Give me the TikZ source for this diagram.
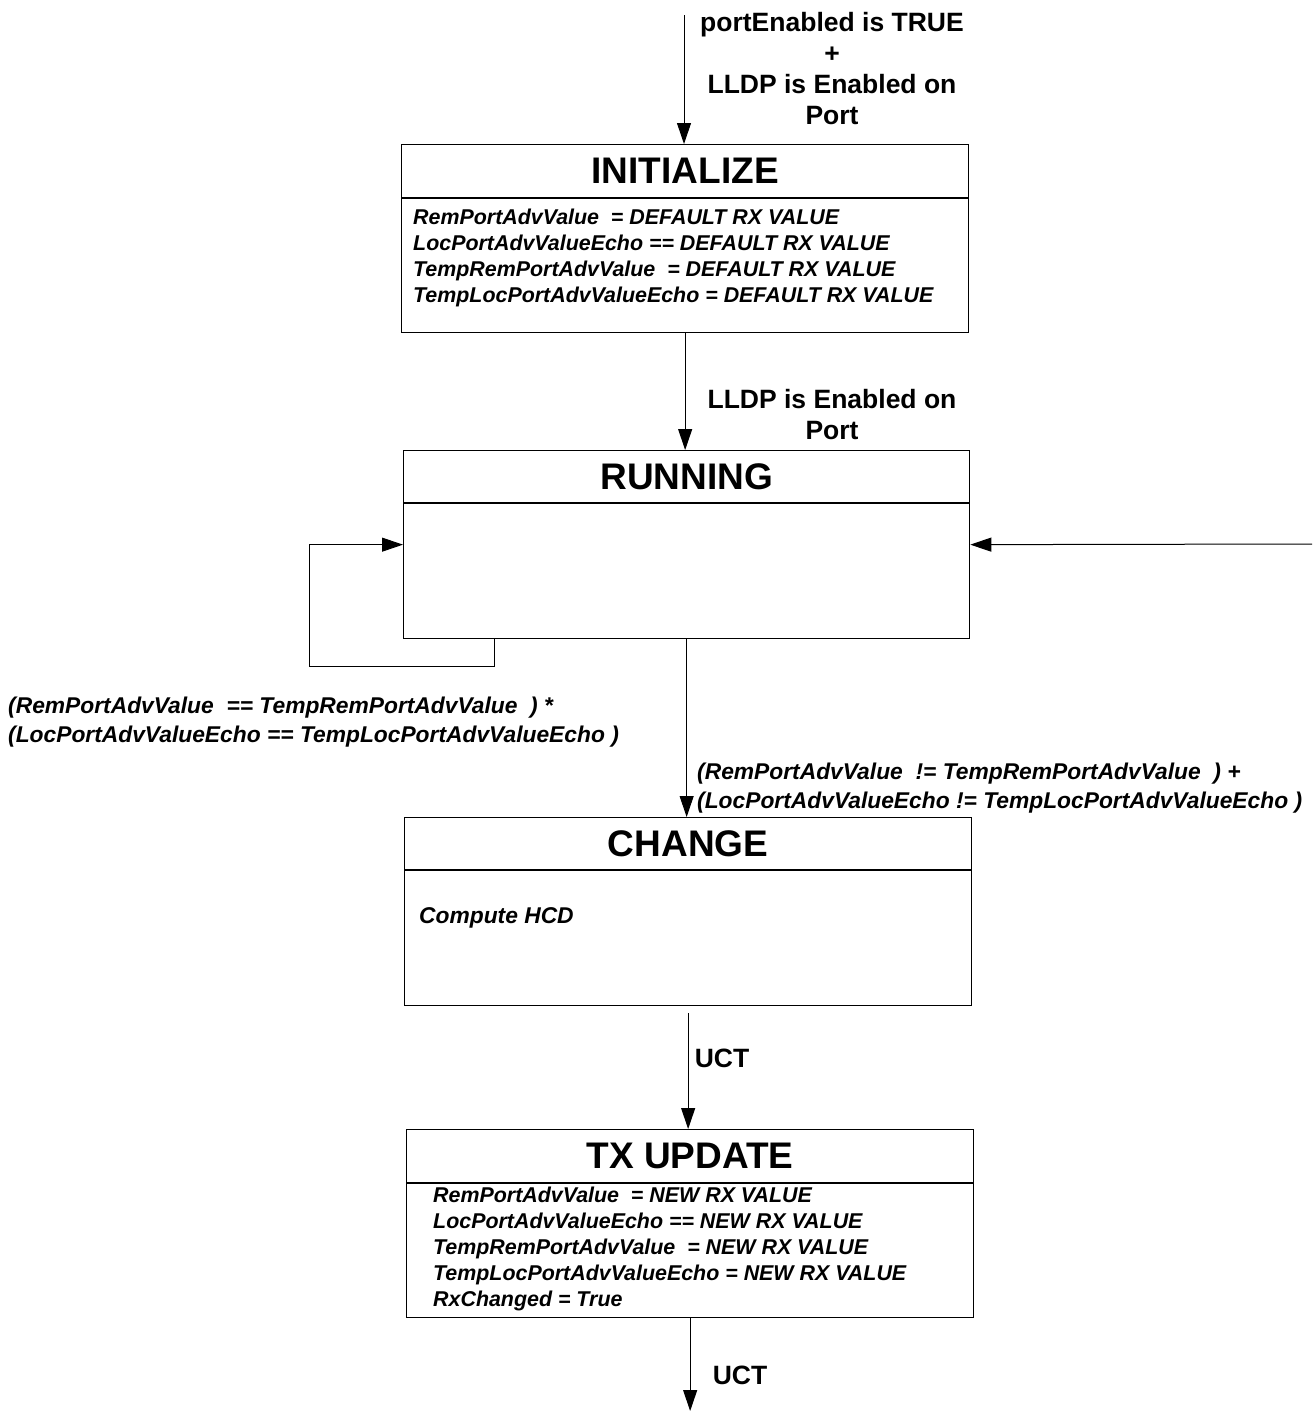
\documentclass[tikz,border=0pt]{standalone}
\usepackage{fontspec}
\setmainfont{Liberation Sans}
\usetikzlibrary{arrows.meta}
\begin{document}
\begin{tikzpicture}[x=1pt,y=-1pt,
  statebox/.style={draw, line width=1.3pt, inner sep=0pt, anchor=north west, minimum height=188pt},
  divline/.style={line width=1.3pt},
  title/.style={font=\fontsize{37}{44}\selectfont\bfseries, inner sep=0pt},
  body/.style={font=\fontsize{21.4}{26}\selectfont\bfseries\itshape, align=left, inner sep=0pt, anchor=north west},
  lbl/.style={font=\fontsize{26.5}{31}\selectfont\bfseries, align=center, inner sep=0pt},
  cond/.style={font=\fontsize{22.8}{28.5}\selectfont\bfseries\itshape, align=left, inner sep=0pt, anchor=north west},
  arr/.style={line width=1pt, -{Triangle[length=21pt,width=14pt]}}
]
\useasboundingbox (0,0) rectangle (1312,1411);

% boxes
\node[statebox, minimum width=567pt] (init) at (401,144) {};
\node[statebox, minimum width=566pt] (run) at (403,450) {};
\node[statebox, minimum width=567pt] (change) at (404,817) {};
\node[statebox, minimum width=567pt] (tx) at (406,1129) {};

% dividers
\draw[divline] ([yshift=-54pt]init.north west) -- ([yshift=-54pt]init.north east);
\draw[divline] ([yshift=-53pt]run.north west) -- ([yshift=-53pt]run.north east);
\draw[divline] ([yshift=-53pt]change.north west) -- ([yshift=-53pt]change.north east);
\draw[divline] ([yshift=-54pt]tx.north west) -- ([yshift=-54pt]tx.north east);

% titles
\node[title] (initT) at ([yshift=-27pt]init.north) {INITIALIZE};
\node[title] (runT) at ([yshift=-26.5pt]run.north) {RUNNING};
\node[title] (changeT) at ([yshift=-26.5pt]change.north) {CHANGE};
\node[title] (txT) at ([yshift=-27pt]tx.north) {TX UPDATE};

% bodies
\node[body] (initB) at (413,209) {RemPortAdvValue\ \ = DEFAULT RX VALUE\\
LocPortAdvValueEcho == DEFAULT RX VALUE\\
TempRemPortAdvValue\ \ = DEFAULT RX VALUE\\
TempLocPortAdvValueEcho = DEFAULT RX VALUE};
\node[body, font=\fontsize{22.8}{28}\selectfont\bfseries\itshape] (changeB) at (419,907) {Compute HCD};
\node[body] (txB) at (433,1187) {RemPortAdvValue\ \ = NEW RX VALUE\\
LocPortAdvValueEcho == NEW RX VALUE\\
TempRemPortAdvValue\ \ = NEW RX VALUE\\
TempLocPortAdvValueEcho = NEW RX VALUE\\
RxChanged = True};

% free ends
\coordinate (start) at (684,15);
\coordinate (rin) at (1312,544);
\coordinate (bot) at (690,1411);

% connectors
\draw[arr] (start) -- (start |- init.north);
\draw[arr] (init.south) -- (init.south |- run.north);
\draw[arr] (run.south) -- (run.south |- change.north);
\draw[arr, shorten <=7pt] (change.south) -- (change.south |- tx.north);
\draw[arr] (tx.south) -- (tx.south |- bot);
\draw[arr] (rin) -- (run.east);
\draw[arr] ([xshift=91pt]run.south west) -- ++(0,27) -| ([xshift=-94pt]run.west) -- (run.west);

% labels
\node[lbl] (l1) at (832,69) {portEnabled is TRUE\\+\\LLDP is Enabled on\\Port};
\node[lbl] (l2) at (832,415) {LLDP is Enabled on\\Port};
\node[cond] (l3) at (8,697) {(RemPortAdvValue\ \ == TempRemPortAdvValue\ \ ) *\\
(LocPortAdvValueEcho == TempLocPortAdvValueEcho )};
\node[cond] (l4) at (697,763) {(RemPortAdvValue\ \ != TempRemPortAdvValue\ \ ) +\\
(LocPortAdvValueEcho != TempLocPortAdvValueEcho )};
\node[lbl] (l5) at (722,1058) {UCT};
\node[lbl] (l6) at (740,1375) {UCT};
\end{tikzpicture}
\end{document}
